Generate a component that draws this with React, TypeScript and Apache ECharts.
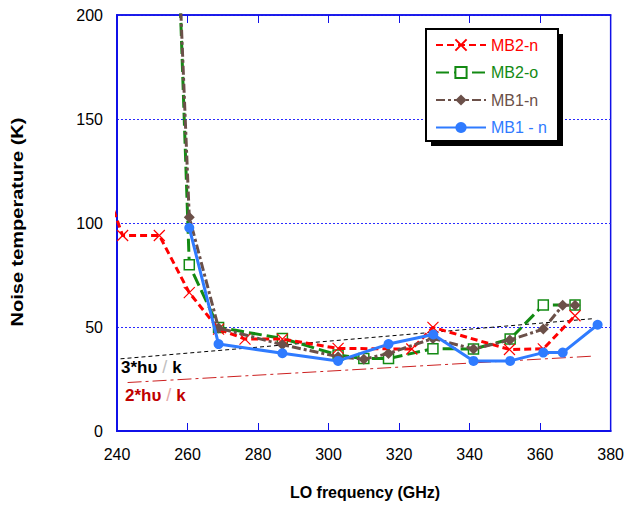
import React, { useEffect, useRef } from "react";
import * as echarts from "echarts";

// ---- data ----
const freqTicks = [240, 260, 280, 300, 320, 340, 360, 380];
const tempTicks = [0, 50, 100, 150, 200];

const mb2nFreq = [238, 241.6, 252, 260.5, 268.8, 276.3, 286.9, 302.7, 323.6, 329.6, 351.3, 360.9, 369.9];
const mb2nTemp = [111, 94, 94, 66.5, 49, 44.2, 44.2, 39.7, 39.4, 49.8, 39.2, 39.5, 55.4];

const mb2oFreq = [256, 260.5, 268.8, 286.9, 302.7, 310, 317, 329.6, 341.1, 351.5, 360.9, 369.9];
const mb2oTemp = [300, 79.9, 49.8, 44.5, 36.5, 34.8, 34.8, 39.6, 39.4, 44.2, 60.6, 60.6];

const mb1nFreq = [256, 260.5, 268.8, 286.9, 302.7, 310, 317, 329.6, 341.1, 351.4, 360.9, 366.4, 369.9];
const mb1nTemp = [288, 102.8, 49.5, 41.5, 35.7, 34.5, 37.3, 44.5, 39.4, 43.7, 49, 60.4, 60.4];

const mb1bFreq = [260.5, 268.8, 286.9, 302.7, 317, 329.7, 341.1, 351.5, 360.9, 366.4, 376.3];
const mb1bTemp = [97.7, 41.8, 37.4, 33.7, 41.8, 46.4, 33.7, 33.7, 37.7, 37.7, 51.1];

const hv3Freq = [241, 375];
const hv3Temp = [34.7, 54];
const hv2Freq = [243, 375];
const hv2Temp = [23.3, 36];

const seriesNames = ["MB2-n", "MB2-o", "MB1-n", "MB1 - n"];
const seriesColors = ["#ff0000", "#138a13", "#6b5049", "#2f7bff"];

const zip = (xs: number[], ys: number[]) => xs.map((x, i) => [x, ys[i]]);

const FONT = "'Liberation Sans', Arial, sans-serif";
const BLUE = "#1010e8";

export default function App() {
  const ref = useRef<HTMLDivElement>(null);
  useEffect(() => {
    if (!ref.current) return;
    const chart = echarts.init(ref.current, undefined, { renderer: "svg" });
    const xMin = freqTicks[0];
    const xMax = freqTicks[freqTicks.length - 1];
    const xInt = freqTicks[1] - freqTicks[0];
    const yMin = tempTicks[0];
    const yMax = tempTicks[tempTicks.length - 1];
    const yInt = tempTicks[1] - tempTicks[0];

    const option: any = {
      animation: false,
      textStyle: { fontFamily: FONT },
      grid: {
        left: 117,
        right: 15,
        top: 15,
        bottom: 74,
        show: true,
        borderColor: BLUE,
        borderWidth: 1.5,
        backgroundColor: "transparent",
      },
      xAxis: [
        {
          type: "value",
          min: xMin,
          max: xMax,
          interval: xInt,
          axisLine: { show: true, lineStyle: { color: BLUE, width: 2 } },
          axisTick: { show: true, inside: true, length: 8, lineStyle: { color: BLUE, width: 1 } },
          axisLabel: { color: "#000", fontSize: 16, margin: 15, fontFamily: FONT },
          splitLine: { show: false },
        },
        {
          type: "value",
          position: "top",
          min: xMin,
          max: xMax,
          interval: xInt,
          axisLine: { show: true, lineStyle: { color: BLUE, width: 1.5 } },
          axisTick: { show: true, inside: true, length: 8, lineStyle: { color: BLUE, width: 1 } },
          axisLabel: { show: false },
          splitLine: { show: false },
        },
      ],
      yAxis: [
        {
          type: "value",
          min: yMin,
          max: yMax,
          interval: yInt,
          axisLine: { show: true, lineStyle: { color: BLUE, width: 2 } },
          axisTick: { show: false },
          axisLabel: { color: "#000", fontSize: 16, margin: 14, fontFamily: FONT },
          splitLine: { show: true, lineStyle: { color: "#2a2aff", width: 1, type: [2, 2] } },
        },
      ],
      legend: {
        orient: "vertical",
        left: 435,
        top: 37,
        z: 10,
        itemWidth: 50,
        itemHeight: 14,
        itemGap: 11.5,
        padding: 0,
        textStyle: { fontSize: 16, lineHeight: 16, fontFamily: FONT },
        data: seriesNames.map((n, i) => ({ name: n, textStyle: { color: seriesColors[i] } })),
      },
      graphic: [
        { type: "rect", z: 8, shape: { x: 431, y: 34, width: 132, height: 112 }, style: { fill: "#000" } },
        {
          type: "rect",
          z: 9,
          shape: { x: 426, y: 29, width: 132, height: 112 },
          style: { fill: "#fff", stroke: "#000", lineWidth: 2 },
        },
        {
          type: "text",
          x: 18,
          y: 222,
          rotation: Math.PI / 2,
          scaleX: 1.25,
          style: {
            text: "Noise temperature (K)",
            fontSize: 16,
            fontWeight: "bold",
            fontFamily: FONT,
            fill: "#000",
            textAlign: "center",
            textVerticalAlign: "middle",
          },
        },
        {
          type: "text",
          x: 365,
          y: 492,
          style: {
            text: "LO frequency (GHz)",
            fontSize: 16,
            fontWeight: "bold",
            fontFamily: FONT,
            fill: "#000",
            textAlign: "center",
            textVerticalAlign: "middle",
          },
        },
        {
          type: "text",
          x: 121,
          y: 367,
          style: {
            text: "{b|3*hυ}{s| / }{b|k}",
            textVerticalAlign: "middle",
            rich: {
              b: { fontSize: 17, fontWeight: "bold", fontFamily: FONT, fill: "#000", color: "#000" },
              s: { fontSize: 18, fontFamily: FONT, fill: "#c0c0c0", color: "#c0c0c0" },
            },
          },
        },
        {
          type: "text",
          x: 125,
          y: 395,
          style: {
            text: "{b|2*hυ}{s| / }{b|k}",
            textVerticalAlign: "middle",
            rich: {
              b: { fontSize: 17, fontWeight: "bold", fontFamily: FONT, fill: "#c00000", color: "#c00000" },
              s: { fontSize: 18, fontFamily: FONT, fill: "#e6a8a8", color: "#e6a8a8" },
            },
          },
        },
      ],
      series: [
        {
          name: "3hv",
          type: "line",
          data: zip(hv3Freq, hv3Temp),
          symbol: "none",
          silent: true,
          z: 1,
          lineStyle: { color: "#000", width: 1, type: [4, 3] },
        },
        {
          name: "2hv",
          type: "line",
          data: zip(hv2Freq, hv2Temp),
          symbol: "none",
          silent: true,
          z: 1,
          lineStyle: { color: "#cc2020", width: 1, type: [14, 4, 3, 4] },
        },
        {
          name: seriesNames[1],
          type: "line",
          data: zip(mb2oFreq, mb2oTemp),
          symbol: "rect",
          symbolSize: 10,
          z: 2,
          lineStyle: { color: seriesColors[1], width: 3, type: [13, 5] },
          itemStyle: { color: "#ffffff", borderColor: seriesColors[1], borderWidth: 1.5 },
        },
        {
          name: seriesNames[0],
          type: "line",
          data: zip(mb2nFreq, mb2nTemp),
          symbol: "path://M0,0L10,10M10,0L0,10",
          symbolSize: 11,
          z: 3,
          lineStyle: { color: seriesColors[0], width: 3, type: [7, 4] },
          itemStyle: { color: seriesColors[0], borderColor: seriesColors[0], borderWidth: 1.2 },
        },
        {
          name: seriesNames[2],
          type: "line",
          data: zip(mb1nFreq, mb1nTemp),
          symbol: "diamond",
          symbolSize: 11,
          z: 4,
          lineStyle: { color: seriesColors[2], width: 3, type: [9, 3, 3, 3] },
          itemStyle: { color: seriesColors[2] },
        },
        {
          name: seriesNames[3],
          type: "line",
          data: zip(mb1bFreq, mb1bTemp),
          symbol: "circle",
          symbolSize: 10,
          z: 5,
          lineStyle: { color: seriesColors[3], width: 3 },
          itemStyle: { color: seriesColors[3] },
        },
      ],
    };
    chart.setOption(option);
    return () => chart.dispose();
  }, []);
  return <div ref={ref} style={{ width: 627, height: 505, position: "absolute", left: 0, top: 0 }} />;
}
